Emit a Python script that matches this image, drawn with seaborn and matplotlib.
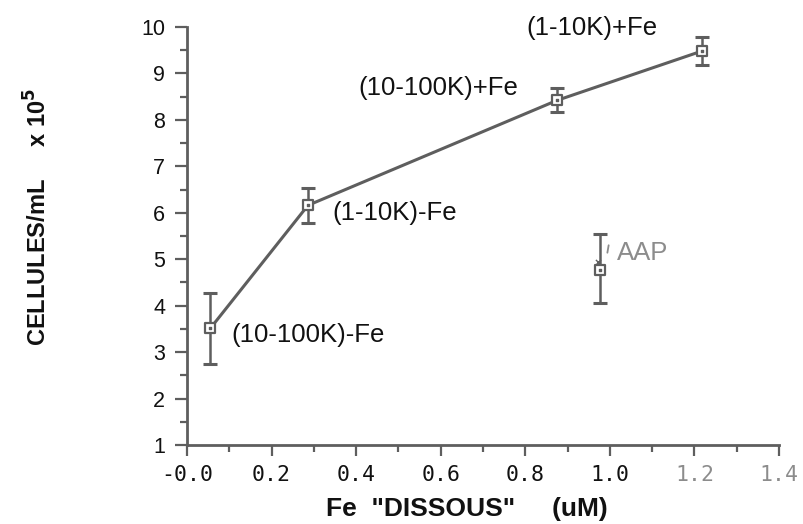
import matplotlib
matplotlib.use("Agg")
import matplotlib.pyplot as plt
import pandas as pd
import seaborn as sns
from matplotlib.ticker import MultipleLocator

# ---- data ----
fractions = ["(10-100K)-Fe", "(1-10K)-Fe", "(10-100K)+Fe", "(1-10K)+Fe"]
fe_dissous = [0.055, 0.286, 0.875, 1.217]
cells = [3.51, 6.16, 8.42, 9.48]
cells_err = [0.76, 0.37, 0.26, 0.30]

aap_label = "AAP"
aap_fe = [0.976]
aap_cells = [4.76]
aap_err_low = [0.71]
aap_err_high = [0.78]

x_ticks = [0.0, 0.2, 0.4, 0.6, 0.8, 1.0, 1.2, 1.4]
y_ticks = [1, 2, 3, 4, 5, 6, 7, 8, 9, 10]

LINE = "#5e5e5e"
TEXT = "#111111"
FAINT = "#8c8c8c"

sns.set_style("ticks")
plt.rcParams["font.family"] = ["Liberation Sans", "DejaVu Sans"]

df = pd.DataFrame({"fe": fe_dissous, "cells": cells, "err": cells_err, "fraction": fractions})

fig = plt.figure(figsize=(8.04, 5.24), dpi=100)
ax = fig.add_axes([0.2326, 0.1508, 0.7364, 0.7977])

sns.lineplot(data=df, x="fe", y="cells", color=LINE, lw=2.2, ax=ax, sort=False)
ax.errorbar(df["fe"], df["cells"], yerr=df["err"], fmt="none", ecolor=LINE,
            elinewidth=1.8, capsize=4.7, capthick=2.2, zorder=3)
ax.errorbar(aap_fe, aap_cells, yerr=[aap_err_low, aap_err_high], fmt="none",
            ecolor=LINE, elinewidth=1.8, capsize=4.7, capthick=2.2, zorder=3)

# square markers with a centre dot
all_x = fe_dissous + aap_fe
all_y = cells + aap_cells
ax.scatter(all_x, all_y, marker="s", s=60, facecolor="white", edgecolor=LINE,
           linewidth=1.6, zorder=4)
ax.scatter(all_x, all_y, marker="s", s=4, color=LINE, zorder=5)
ax.scatter([aap_fe[0] - 0.004], [aap_cells[0] + 0.18], marker="x", s=14,
           color=LINE, linewidth=1.0, zorder=5)

# point labels
offsets = [(0.051, -0.15, "left"), (0.057, -0.17, "left"),
           (-0.0925, 0.27, "right"), (-0.104, 0.5, "right")]
for name, x, y, (dx, dy, ha) in zip(fractions, fe_dissous, cells, offsets):
    ax.text(x + dx, y + dy, name, fontsize=18.5, color=TEXT, va="center", ha=ha)
ax.text(aap_fe[0] + 0.041, aap_cells[0] + 0.37, aap_label, fontsize=18.5,
        color=FAINT, va="center", ha="left")
ax.plot([aap_fe[0] + 0.021, aap_fe[0] + 0.018], [aap_cells[0] + 0.54, aap_cells[0] + 0.38],
        color=FAINT, lw=1.3)

# ---- axis config ----
ax.set_xlim(0, 1.4)
ax.set_ylim(1, 10)
ax.set_xticks(x_ticks)
ax.set_yticks(y_ticks)
ax.xaxis.set_minor_locator(MultipleLocator(0.1))
ax.yaxis.set_minor_locator(MultipleLocator(0.5))
ax.set_xticklabels(["-0.0"] + [f"{v:.1f}" for v in x_ticks[1:]])
ax.tick_params(axis="y", which="major", length=8.6, width=1.6, color=LINE,
               labelsize=15.5, labelcolor=TEXT, pad=7)
ax.tick_params(axis="x", which="major", length=8, width=1.6, color=LINE,
               labelsize=15.5, labelfontfamily="DejaVu Sans Mono",
               labelcolor=TEXT, pad=6.5)
ax.tick_params(axis="both", which="minor", length=5, width=1.6, color=LINE)
for lbl in ax.get_xticklabels()[-2:]:
    lbl.set_color(FAINT)

sns.despine(ax=ax)
for side in ["left", "bottom"]:
    ax.spines[side].set_color(LINE)
    ax.spines[side].set_linewidth(2.0)

ax.set_xlabel('Fe  "DISSOUS"     (uM)', fontsize=19, fontweight="bold", color=TEXT)
ax.xaxis.set_label_coords(0.473, -0.125)
ax.set_ylabel(r"CELLULES/mL     x 10$^{\mathbf{5}}$", fontsize=17,
              fontweight="bold", color=TEXT)
ax.yaxis.set_label_coords(-0.228, 0.545)

fig.savefig("out.png", dpi=100, facecolor="white")
